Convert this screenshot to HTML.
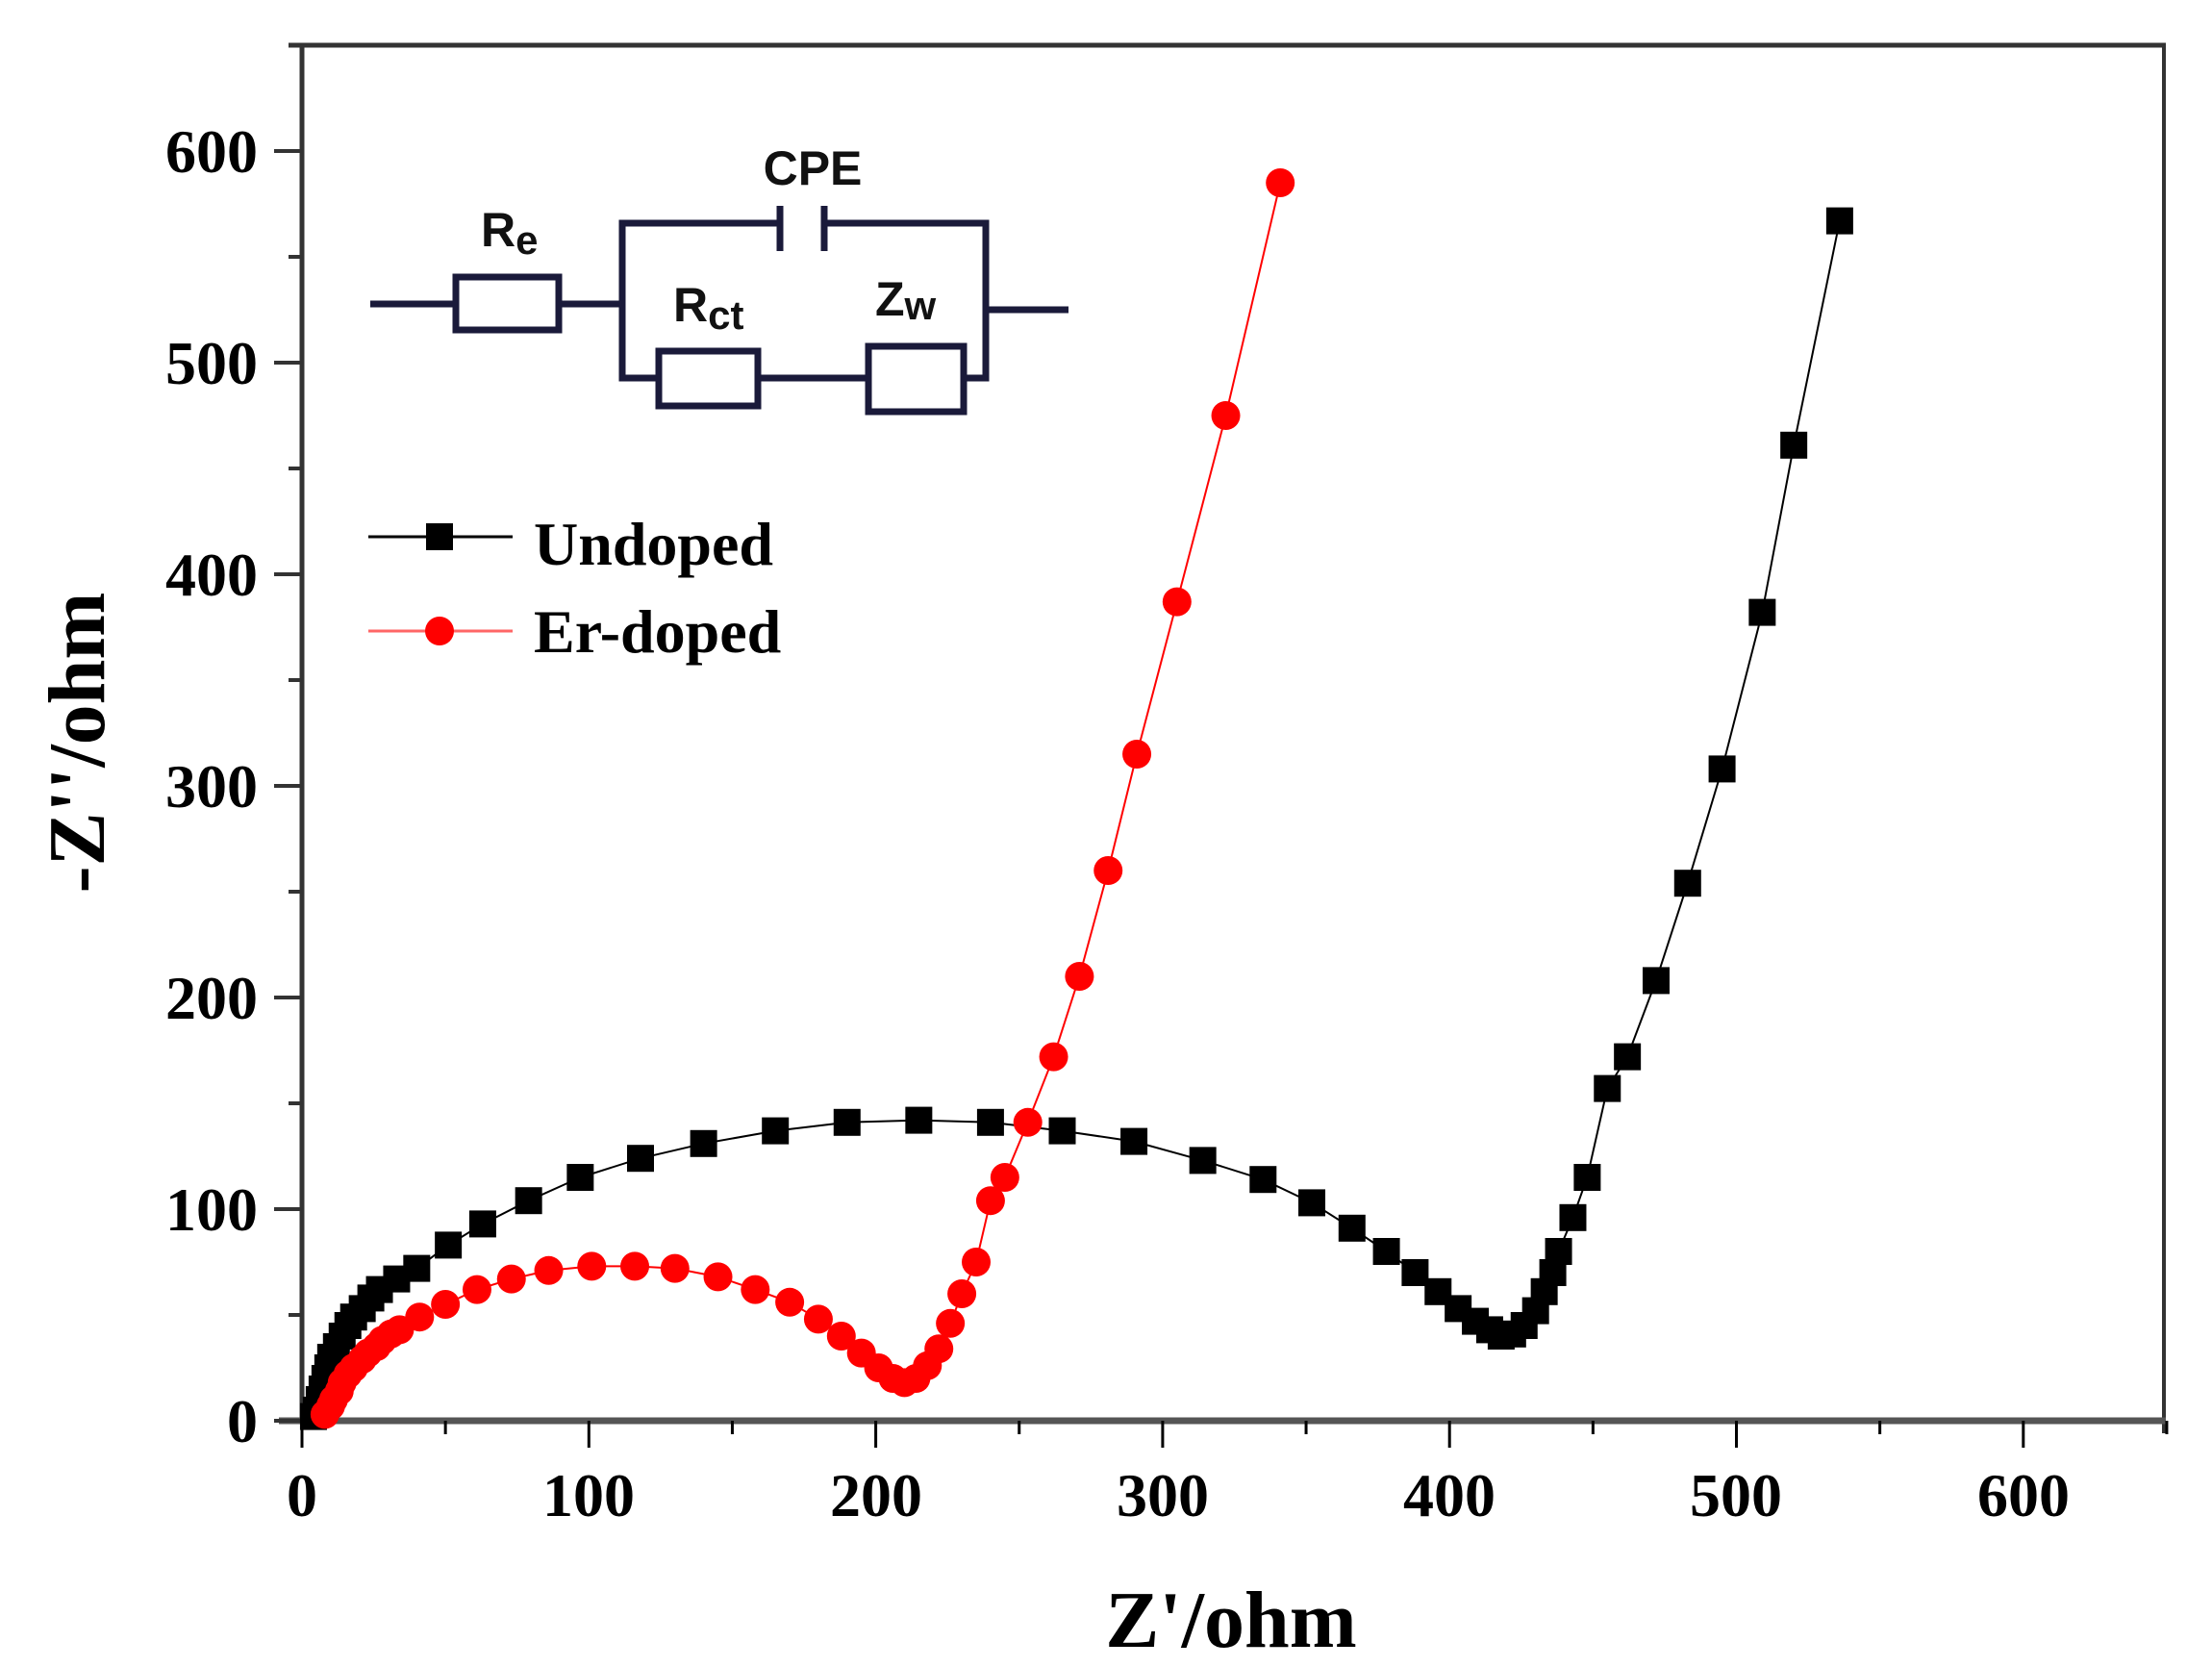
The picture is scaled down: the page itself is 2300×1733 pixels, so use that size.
<!DOCTYPE html>
<html><head><meta charset="utf-8">
<style>html,body{margin:0;padding:0;background:#fff;}svg{display:block;}</style>
</head><body>
<svg id="s" width="2300" height="1733" viewBox="0 0 2300 1733" xmlns="http://www.w3.org/2000/svg">
<rect width="2300" height="1733" fill="#fff"/>
<g id="axes" stroke="#333" fill="none"></g>
<g font-family="Liberation Serif, serif" font-weight="bold" fill="#000" font-size="64">
<text x="314" y="1576" text-anchor="middle">0</text>
<text x="612" y="1576" text-anchor="middle">100</text>
<text x="911" y="1576" text-anchor="middle">200</text>
<text x="1209" y="1576" text-anchor="middle">300</text>
<text x="1507" y="1576" text-anchor="middle">400</text>
<text x="1805" y="1576" text-anchor="middle">500</text>
<text x="2104" y="1576" text-anchor="middle">600</text>
<text x="268" y="1499" text-anchor="end">0</text>
<text x="268" y="1279" text-anchor="end">100</text>
<text x="268" y="1059" text-anchor="end">200</text>
<text x="268" y="839" text-anchor="end">300</text>
<text x="268" y="619" text-anchor="end">400</text>
<text x="268" y="399" text-anchor="end">500</text>
<text x="268" y="179" text-anchor="end">600</text>
<text x="1280" y="1712" text-anchor="middle" font-size="84">Z'/ohm</text>
<text transform="translate(108,772) rotate(-90)" text-anchor="middle" font-size="84">-Z''/ohm</text>
<text x="555" y="587" font-size="64">Undoped</text>
<text x="555" y="678" font-size="64">Er-doped</text>
</g>
<g stroke="#1a1a3a" stroke-width="7" fill="#fff">
<line x1="385" y1="316" x2="474" y2="316"/>
<rect x="474" y="288" width="107" height="55"/>
<line x1="581" y1="316" x2="647" y2="316"/>
<polyline points="811,232 647,232 647,393 685,393" fill="none"/>
<line x1="811" y1="214" x2="811" y2="261"/>
<line x1="857" y1="214" x2="857" y2="261"/>
<polyline points="857,232 1025,232 1025,393 1002,393" fill="none"/>
<line x1="788" y1="393" x2="903" y2="393"/>
<rect x="685" y="365" width="103" height="57"/>
<rect x="903" y="360" width="99" height="68"/>
<line x1="1025" y1="322" x2="1111" y2="322"/>
</g>
<g font-family="Liberation Sans, sans-serif" font-weight="bold" fill="#111" font-size="50">
<text x="845" y="192" text-anchor="middle">CPE</text>
<text x="500" y="256">R<tspan font-size="42" dy="8">e</tspan></text>
<text x="700" y="334">R<tspan font-size="42" dy="8">ct</tspan></text>
<text x="910" y="328">Z<tspan font-size="42" dy="4">w</tspan></text>
</g>
<line x1="383" y1="558" x2="533" y2="558" stroke="#000" stroke-width="3"/>
<rect x="443" y="544" width="28" height="28" fill="#000"/>
<line x1="383" y1="656" x2="533" y2="656" stroke="#f66" stroke-width="3"/>
<circle cx="457" cy="656" r="15" fill="#f00"/>
<g id="data"></g>
</svg>
<script>
var NS="http://www.w3.org/2000/svg";
function px(x){return 314+x*2.983;} function py(y){return 1477-y*2.2;}
function el(p,t,a){var e=document.createElementNS(NS,t);for(var k in a)e.setAttribute(k,a[k]);p.appendChild(e);return e;}
var ax=document.getElementById('axes');
el(ax,'line',{x1:314,y1:45,x2:314,y2:1480,'stroke-width':5});
el(ax,'line',{x1:300,y1:47,x2:2252,y2:47,'stroke-width':5});
el(ax,'line',{x1:2250,y1:45,x2:2250,y2:1490,'stroke-width':4});
el(ax,'line',{x1:290,y1:1477,x2:2252,y2:1477,'stroke-width':7,stroke:'#555'});
for(var i=0;i<=13;i++){var x=px(i*50);el(ax,'line',{x1:x,y1:1477,x2:x,y2:i%2?1491:1505,'stroke-width':3,stroke:'#000'});}
for(var i=0;i<=13;i++){var y=py(i*50);if(y<47)break;el(ax,'line',{x1:i%2?300:285,y1:y,x2:314,y2:y,'stroke-width':4,stroke:'#333'});}
var U=[[4,2],[5,5],[6,10],[7,15],[8,20],[9,25],[10,30],[12,35],[14,40],[16,45],[18,49],[21,53],[24,58],[27,62],[33,67],[40,72],[51,83],[63,93],[79,104],[97,115],[118,124],[140,131],[165,137],[190,141],[215,142],[240,141],[265,137],[290,132],[314,123],[335,114],[352,103],[366,91],[378,80],[388,70],[396,61],[403,53],[409,47],[414,43],[418,40],[422,41],[426,45],[430,52],[433,61],[436,70],[438,80],[443,96],[448,115],[455,157],[462,172],[472,208],[483,254],[495,308],[509,382],[520,461],[536,567]];
var E=[[8,3],[10,7],[11,10],[13,14],[14,18],[16,22],[18,25],[21,29],[23,32],[26,35],[28,38],[31,41],[34,43],[41,49],[50,55],[61,62],[73,67],[86,71],[101,73],[116,73],[130,72],[145,68],[158,62],[170,56],[180,48],[188,40],[195,32],[201,25],[206,20],[210,18],[214,20],[218,26],[222,34],[226,46],[230,60],[235,75],[240,104],[245,115],[253,141],[262,172],[271,210],[281,260],[291,315],[305,387],[322,475],[341,585]];
var d=document.getElementById('data');
function pts(a){return a.map(function(p){return px(p[0])+','+py(p[1]);}).join(' ');}
el(d,'polyline',{points:pts(U),fill:'none',stroke:'#000','stroke-width':2});
U.forEach(function(p){el(d,'rect',{x:px(p[0])-14,y:py(p[1])-14,width:28,height:28,fill:'#000'});});
el(d,'polyline',{points:pts(E),fill:'none',stroke:'#f00','stroke-width':2});
E.forEach(function(p){el(d,'circle',{cx:px(p[0]),cy:py(p[1]),r:15,fill:'#f00'});});
</script>
</body></html>
